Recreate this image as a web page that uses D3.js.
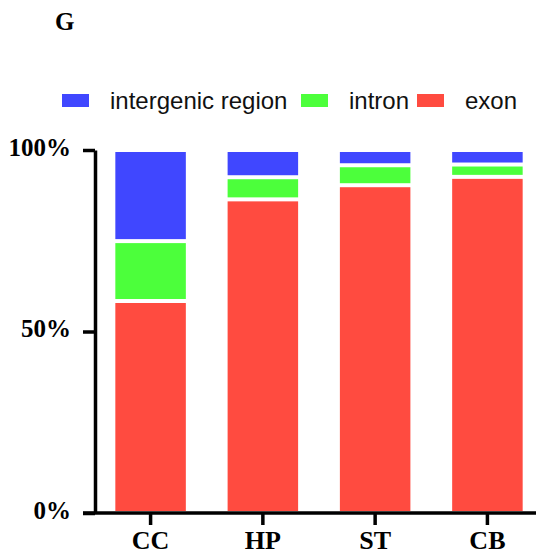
<!DOCTYPE html>
<html>
<head>
<meta charset="utf-8">
<script src="https://cdn.jsdelivr.net/npm/d3@7"></script>
<style>
  body { margin: 0; background: #fff; }
  svg { display: block; }
</style>
</head>
<body>
<svg id="chart" width="536" height="556"></svg>
<script>
// data (fractions of reads)
const regions = ["CC", "HP", "ST", "CB"];
const exon = [0.584, 0.864, 0.903, 0.926];
const intron = [0.165, 0.061, 0.055, 0.034];
const intergenic = [0.251, 0.075, 0.042, 0.040];
const seriesNames = ["intergenic region", "intron", "exon"];
const yTicks = [0, 0.5, 1];

const colors = { "exon": "#ff4b40", "intron": "#4cff3b", "intergenic region": "#4047ff" };

const svg = d3.select("#chart");
const W = 536, H = 556;
const serif = "'Liberation Serif', 'Times New Roman', serif";

const x = d3.scaleBand().domain(regions).range([94, 544])
    .paddingInner(0.372).paddingOuter(0.19);
const y = d3.scaleLinear().domain([0, 1]).range([513, 150]);

// stack order bottom -> top: exon, intron, intergenic
const rows = regions.map((r, i) => ({
    region: r, "exon": exon[i], "intron": intron[i], "intergenic region": intergenic[i]
}));
const stack = d3.stack().keys(["exon", "intron", "intergenic region"]);
const layers = stack(rows);

const gap = 2; // white separation between segments
svg.append("g").selectAll("g")
    .data(layers)
    .join("g")
    .attr("fill", d => colors[d.key])
    .selectAll("rect")
    .data(d => d)
    .join("rect")
    .attr("x", d => x(d.data.region))
    .attr("width", x.bandwidth())
    .attr("y", d => y(d[1]) + gap)
    .attr("height", d => Math.max(0, y(d[0]) - y(d[1]) - 2 * gap));

// axes
const yAxis = svg.append("g")
    .attr("transform", "translate(95,0)")
    .call(d3.axisLeft(y).tickValues(yTicks).tickSize(12).tickSizeOuter(0)
        .tickFormat(d3.format(".0%")).tickPadding(12));
yAxis.selectAll("path, line").attr("stroke", "#000").attr("stroke-width", 3.5);
yAxis.selectAll("text")
    .attr("font-family", serif)
    .attr("font-weight", "bold").attr("font-size", 25).attr("fill", "#000")
    .attr("dy", "0.2em");

const xAxis = svg.append("g")
    .attr("transform", "translate(0,513)")
    .call(d3.axisBottom(x).tickSize(12).tickSizeOuter(0).tickPadding(6));
xAxis.select(".domain").attr("d", `M83,0H${W}`);
xAxis.selectAll("path, line").attr("stroke", "#000").attr("stroke-width", 3.5);
xAxis.selectAll("text")
    .attr("font-family", serif)
    .attr("font-weight", "bold").attr("font-size", 26).attr("fill", "#000");

// legend
const legendX = [62, 301, 417];
const legend = svg.append("g");
seriesNames.forEach((name, i) => {
    legend.append("rect")
        .attr("x", legendX[i]).attr("y", 94)
        .attr("width", 27).attr("height", 13)
        .attr("fill", colors[name]);
    legend.append("text")
        .attr("x", legendX[i] + 48).attr("y", 109)
        .attr("font-family", "'Liberation Sans', Arial, sans-serif")
        .attr("font-size", 24).attr("fill", "#111")
        .text(name);
});

// panel letter
svg.append("text")
    .attr("x", 55).attr("y", 30)
    .attr("font-family", serif)
    .attr("font-weight", "bold").attr("font-size", 25)
    .text("G");
</script>
</body>
</html>
